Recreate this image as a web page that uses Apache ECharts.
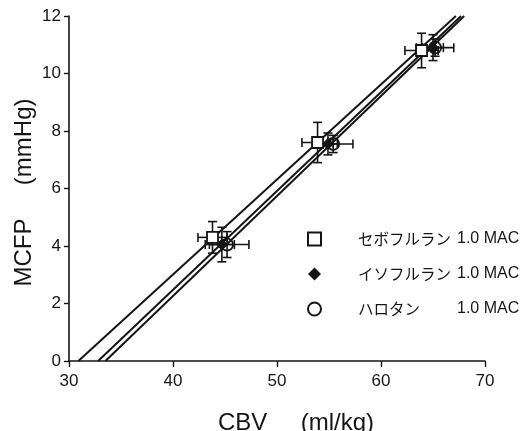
<!DOCTYPE html>
<html>
<head>
<meta charset="utf-8">
<script src="https://cdn.jsdelivr.net/npm/echarts@6/dist/echarts.min.js"></script>
<style>
  html, body { margin: 0; padding: 0; background: #fff; }
  #chart { width: 523px; height: 431px; }
</style>
</head>
<body>
<div id="chart"></div>
<script>
// group names (legend)
const groupNames = ['セボフルラン', 'イソフルラン', 'ハロタン'];
const macLabel = '1.0 MAC';

// mean CBV (ml/kg) and MCFP (mmHg) for each group
const sevoCBV = [43.8, 53.9, 63.9];
const sevoMCFP = [4.3, 7.6, 10.8];
const isoCBV = [44.7, 54.9, 65.0];
const isoMCFP = [4.05, 7.55, 10.9];
const haloCBV = [45.2, 55.4, 65.2];
const haloMCFP = [4.05, 7.55, 10.9];

// error bar half-widths (SD)
const sevoCBVsd = [1.4, 1.5, 1.6];
const sevoMCFPsd = [0.55, 0.7, 0.6];
const isoCBVsd = [1.2, 0.9, 1.0];
const isoMCFPsd = [0.6, 0.38, 0.45];
const haloCBVsd = [2.1, 1.9, 1.8];
const haloMCFPsd = [0.45, 0.3, 0.3];

// regression lines: CBV at MCFP = 0 and at MCFP = 12
const lineMCFP = [0, 12];
const sevoLineCBV = [30.9, 67.2];
const isoLineCBV = [32.8, 67.7];
const haloLineCBV = [33.5, 68.0];

// axis ticks
const xMin = 30, xMax = 70, xStep = 10;
const yMin = 0, yMax = 12, yStep = 2;

const ink = '#151515';

const zip = (xs, ys) => xs.map((x, i) => [x, ys[i]]);
const zip4 = (xs, ys, ex, ey) => xs.map((x, i) => [x, ys[i], ex[i], ey[i]]);

function errorBars(params, api) {
  const x = api.value(0), y = api.value(1), ex = api.value(2), ey = api.value(3);
  const l = api.coord([x - ex, y]);
  const r = api.coord([x + ex, y]);
  const t = api.coord([x, y + ey]);
  const b = api.coord([x, y - ey]);
  const cap = 4.5;
  const st = { stroke: ink, lineWidth: 1.6 };
  const seg = (x1, y1, x2, y2) => ({ type: 'line', shape: { x1, y1, x2, y2 }, style: st });
  return {
    type: 'group',
    children: [
      seg(l[0], l[1], r[0], r[1]),
      seg(l[0], l[1] - cap, l[0], l[1] + cap),
      seg(r[0], r[1] - cap, r[0], r[1] + cap),
      seg(t[0], t[1], b[0], b[1]),
      seg(t[0] - cap, t[1], t[0] + cap, t[1]),
      seg(b[0] - cap, b[1], b[0] + cap, b[1])
    ]
  };
}

const chart = echarts.init(document.getElementById('chart'));

const errSeries = (data) => ({
  type: 'custom',
  renderItem: errorBars,
  data: data,
  z: 1,
  silent: true
});

const regLine = (xs) => ({
  type: 'line',
  data: zip(xs, lineMCFP),
  symbol: 'none',
  lineStyle: { color: ink, width: 2 },
  z: 2,
  silent: true
});

const option = {
  animation: false,
  grid: { left: 69, right: 38, top: 16, bottom: 70, containLabel: false, outerBoundsMode: 'none' },
  xAxis: {
    type: 'value',
    min: xMin, max: xMax, interval: xStep,
    name: 'CBV     (ml/kg)',
    nameLocation: 'middle',
    nameGap: 50,
    nameTextStyle: { fontFamily: 'Liberation Sans', fontSize: 24, color: ink, padding: [0, 0, 0, 38] },
    axisLine: { lineStyle: { color: ink, width: 1.6 } },
    axisTick: { show: true, length: 6, lineStyle: { color: ink, width: 1.4 } },
    axisLabel: { fontFamily: 'Liberation Sans', fontSize: 17, color: ink, margin: 12 },
    splitLine: { show: false }
  },
  yAxis: {
    type: 'value',
    min: yMin, max: yMax, interval: yStep,
    name: 'MCFP     (mmHg)',
    nameLocation: 'middle',
    nameGap: 33,
    nameMoveOverlap: false,
    nameTextStyle: { fontFamily: 'Liberation Sans', fontSize: 24, color: ink, padding: [0, 8, 0, 0] },
    axisLine: { show: true, lineStyle: { color: ink, width: 1.6 } },
    axisTick: { show: true, length: 5, lineStyle: { color: ink, width: 1.4 } },
    axisLabel: { fontFamily: 'Liberation Sans', fontSize: 17, color: ink, margin: 8 },
    splitLine: { show: false }
  },
  legend: {
    orient: 'vertical',
    left: 302,
    top: 224,
    itemWidth: 13,
    itemHeight: 13,
    itemGap: 15,
    selectedMode: false,
    data: groupNames,
    formatter: (name) => '{s| }{n|' + name + '}{m|' + macLabel + '}',
    textStyle: {
      color: ink,
      lineHeight: 20,
      rich: {
        s: { width: 32 },
        n: { width: 99, fontFamily: 'Noto Sans CJK JP', fontSize: 15.5, color: ink },
        m: { fontFamily: 'Liberation Sans', fontSize: 16, color: ink }
      }
    }
  },
  series: [
    regLine(sevoLineCBV),
    regLine(isoLineCBV),
    regLine(haloLineCBV),
    errSeries(zip4(sevoCBV, sevoMCFP, sevoCBVsd, sevoMCFPsd)),
    errSeries(zip4(isoCBV, isoMCFP, isoCBVsd, isoMCFPsd)),
    errSeries(zip4(haloCBV, haloMCFP, haloCBVsd, haloMCFPsd)),
    {
      name: groupNames[0],
      type: 'scatter',
      data: zip(sevoCBV, sevoMCFP),
      symbol: 'rect',
      symbolSize: 11,
      itemStyle: { color: '#fff', borderColor: ink, borderWidth: 1.8, opacity: 1 },
      z: 3
    },
    {
      name: groupNames[1],
      type: 'scatter',
      data: zip(isoCBV, isoMCFP),
      symbol: 'diamond',
      symbolSize: 12,
      itemStyle: { color: ink, opacity: 1 },
      z: 4
    },
    {
      name: groupNames[2],
      type: 'scatter',
      data: zip(haloCBV, haloMCFP),
      symbol: 'circle',
      symbolSize: 12,
      itemStyle: { color: 'rgba(255,255,255,0)', borderColor: ink, borderWidth: 1.8, opacity: 1 },
      z: 5
    }
  ]
};

chart.setOption(option);
</script>
</body>
</html>
